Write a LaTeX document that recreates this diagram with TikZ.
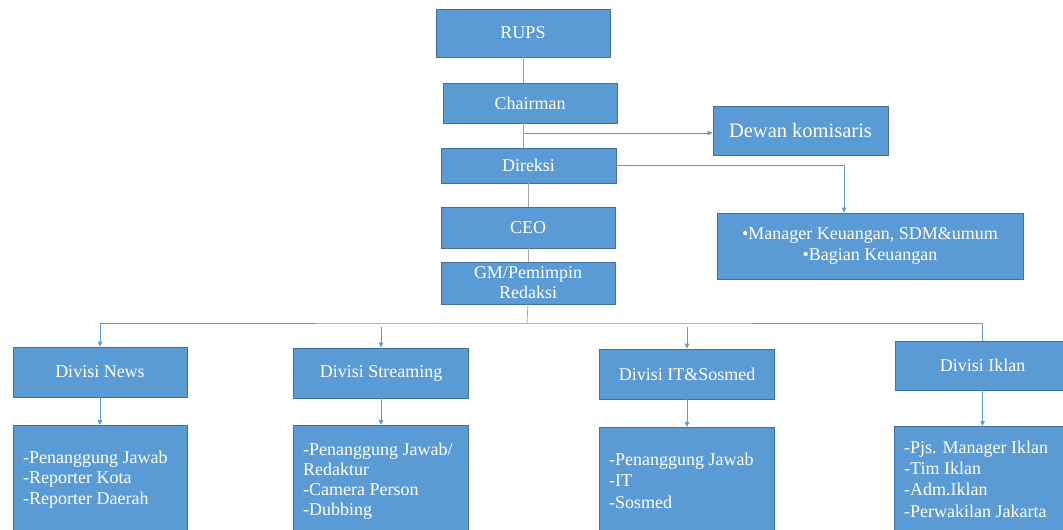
\documentclass[tikz,border=0pt]{standalone}
\usepackage{fontspec}
\setmainfont{Liberation Serif}
\newfontfamily\tnr{Liberation Serif}
\usetikzlibrary{arrows.meta}
\definecolor{boxfill}{HTML}{5B9BD5}
\definecolor{boxline}{HTML}{41719C}
\definecolor{conn}{HTML}{5B9BD5}
\definecolor{vconn}{HTML}{A5A5A5}
\begin{document}
\begin{tikzpicture}[x=1pt,y=-1pt,
  box/.style={draw=boxline, line width=0.8pt, fill=boxfill, text=white,
    font=\tnr\fontsize{18}{20}\selectfont, inner sep=0pt, align=center},
  lowbox/.style={box, minimum width=174pt, minimum height=120pt, anchor=north},
  list/.style={text=white, font=\tnr\fontsize{18}{20.5}\selectfont, inner sep=0pt,
    align=left, anchor=north west},
  link/.style={draw=conn, line width=0.8pt},
  trunk/.style={draw=vconn, line width=0.8pt},
  arr/.style={-{Triangle[length=5pt,width=4.5pt]}}]
\useasboundingbox (0,0) rectangle (1063,530);
\clip (0,0) rectangle (1063,530);
% top column
\node[box, minimum width=174pt, minimum height=48pt] (rups) at (523,33) {RUPS};
\node[box, minimum width=174pt, minimum height=40pt] (chair) at (530,103) {Chairman};
\node[box, minimum width=175pt, minimum height=49pt, font=\tnr\fontsize{20.5}{22}\selectfont] (dewan) at (800.5,130.5) {Dewan komisaris};
\node[box, minimum width=175pt, minimum height=35pt] (direksi) at (528.5,165.5) {Direksi};
\node[box, minimum width=306pt, minimum height=66pt, font=\tnr\fontsize{18}{21}\selectfont] (manager) at (870,246) {•Manager Keuangan, SDM\&umum\\•Bagian Keuangan};
\node[box, minimum width=174pt, minimum height=41pt] (ceo) at (528,227.5) {CEO};
\node[box, minimum width=174pt, minimum height=42pt] (gm) at (528,283) {GM/Pemimpin\\Redaksi};
% divisions
\node[box, minimum width=174pt, minimum height=50pt] (news) at (100,372) {Divisi News};
\node[box, minimum width=175pt, minimum height=50pt] (stream) at (381,373) {Divisi Streaming};
\node[box, minimum width=175pt, minimum height=50pt] (it) at (687,374) {Divisi IT\&Sosmed};
\node[box, minimum width=175pt, minimum height=49pt] (iklan) at (982.5,365.5) {Divisi Iklan};
% lower boxes
\node[lowbox] (newsl) at (100,425) {};
\node[lowbox, minimum width=175pt] (streaml) at (381,425) {};
\node[lowbox, minimum width=175pt] (itl) at (687,427) {};
\node[lowbox, minimum width=176pt] (iklanl) at (982.5,426) {};
\node[list] (newst) at (23,450.7) {-Penanggung Jawab\\-Reporter Kota\\-Reporter Daerah};
\node[list, font=\tnr\fontsize{18}{20}\selectfont] (streamt) at (303,442.5) {-Penanggung Jawab/\\Redaktur\\-Camera Person\\-Dubbing};
\node[list, font=\tnr\fontsize{18}{21.5}\selectfont] (itt) at (609,452.7) {-Penanggung Jawab\\-IT\\-Sosmed};
\node[list, font=\tnr\fontsize{18}{21.3}\selectfont] (iklant) at (904,440.7) {-Pjs. Manager Iklan\\-Tim Iklan\\-Adm.Iklan\\-Perwakilan Jakarta};
% connectors
\coordinate (dk) at (524,133);
\coordinate (bus) at (527,323);
\coordinate (sb) at (381,327);
\coordinate (ib) at (687,327);
\draw[trunk] (rups.south) -- (rups.south |- chair.north);
\draw[trunk] (chair.south -| rups.south) -- (direksi.north -| rups.south);
\draw[link,arr] (dk) -- (dk -| dewan.west);
\draw[link,arr] (direksi.east) -| ([xshift=-26pt]manager.north);
\draw[trunk] (direksi.south -| ceo.north) -- (ceo.north);
\draw[trunk] (ceo.south) -- (gm.north);
\draw[trunk] (gm.south) -- (bus);
\draw[link,arr] (iklan.north) |- (bus) -| (news.north);
\draw[link,arr] (sb) -- (stream.north);
\draw[link,arr] (ib) -- (it.north);
\draw[link,arr] (news.south) -- (newsl.north);
\draw[link,arr] (stream.south) -- (streaml.north);
\draw[link,arr] (it.south) -- (itl.north);
\draw[link,arr] (iklan.south) -- (iklanl.north);
\end{tikzpicture}
\end{document}
